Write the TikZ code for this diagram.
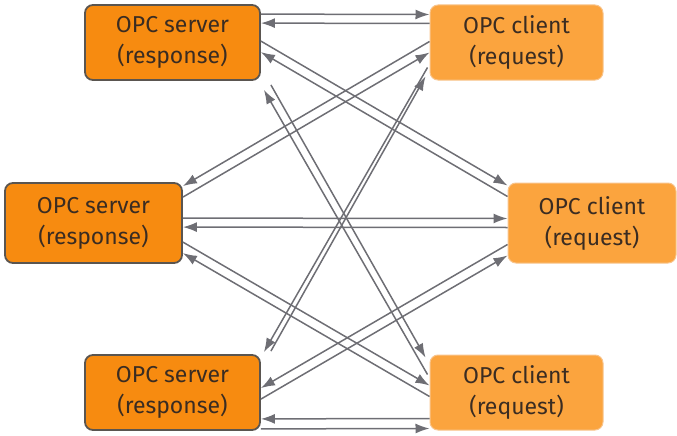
\documentclass[tikz,border=0pt]{standalone}
\usepackage{fontspec}
\setmainfont{Fira Sans}
\usetikzlibrary{arrows.meta}
\definecolor{srvfill}{HTML}{F78B10}
\definecolor{srvline}{HTML}{5A5550}
\definecolor{clifill}{HTML}{FBA43E}
\definecolor{cliline}{HTML}{F8C48C}
\definecolor{txt}{HTML}{3A2C22}
\definecolor{wire}{HTML}{6E6E74}
\tikzset{
  box/.style={rectangle, rounded corners=8pt, align=center, text=txt,
    font=\fontsize{23}{31}\selectfont, inner sep=0pt,
    execute at begin node={\rule{0pt}{25pt}}},
  server/.style={box, fill=srvfill, draw=srvline, line width=1.8pt},
  client/.style={box, fill=clifill, draw=cliline, line width=1pt},
  arr/.style={draw=wire, line width=1.5pt,
    -{Latex[length=14pt,width=10pt]}},
}
\begin{document}
\begin{tikzpicture}[x=1pt,y=-1pt]
\useasboundingbox (0,0) rectangle (677,436);
% boxes
\node[server, minimum width=175pt, minimum height=75pt] (s1) at (172.5,42.5) {OPC server\\(response)};
\node[server, minimum width=177pt, minimum height=80pt] (s2) at (93.5,223) {OPC server\\(response)};
\node[server, minimum width=175pt, minimum height=75pt] (s3) at (172.5,392.5) {OPC server\\(response)};
\node[client, minimum width=173pt, minimum height=75pt] (c1) at (516.5,42.5) {OPC client\\(request)};
\node[client, minimum width=168pt, minimum height=80pt] (c2) at (592,223) {OPC client\\(request)};
\node[client, minimum width=173pt, minimum height=75pt] (c3) at (516.5,392.5) {OPC client\\(request)};
% horizontal pairs
\draw[arr] ([yshift=-10pt]s1.north east) -- ([yshift=-10pt]c1.north west);
\draw[arr] ([yshift=-19pt]c1.north west) -- ([yshift=-19pt]s1.north east);
\draw[arr] ([yshift=-36pt]s2.north east) -- ([yshift=-36pt]c2.north west);
\draw[arr] ([yshift=-45pt]c2.north west) -- ([yshift=-45pt]s2.north east);
\draw[arr] ([yshift=12pt]c3.south west) -- ([yshift=12pt]s3.south east);
\draw[arr] ([yshift=2pt]s3.south east) -- ([yshift=2pt]c3.south west);
% server 1 <-> client 2, server 3 <-> client 2
\draw[arr] ([yshift=-37pt]s1.north east) -- ([yshift=-3pt]c2.north west);
\draw[arr] ([yshift=-14pt]c2.north west) -- ([yshift=-48pt]s1.north east);
\draw[arr] ([yshift=-45pt]s3.north east) -- ([yshift=-73pt]c2.north west);
\draw[arr] ([yshift=-62pt]c2.north west) -- ([yshift=-34pt]s3.north east);
% client 1 <-> server 2, client 3 <-> server 2
\draw[arr] ([yshift=-37pt]c1.north west) -- ([yshift=-4pt]s2.north east);
\draw[arr] ([yshift=-15pt]s2.north east) -- ([yshift=-48pt]c1.north west);
\draw[arr] ([yshift=-60pt]s2.north east) -- ([yshift=-31pt]c3.north west);
\draw[arr] ([yshift=-42pt]c3.north west) -- ([yshift=-71pt]s2.north east);
% steep crossings
\draw[arr] ([xshift=10pt,yshift=-4pt]s1.south east) -- ([xshift=-4pt,yshift=-3pt]c3.north west);
\draw[arr] ([xshift=-2pt,yshift=-20pt]c3.north west) -- ([xshift=3pt,yshift=-9pt]s1.south east);
\draw[arr] ([xshift=10pt,yshift=3pt]s3.north east) -- ([xshift=-4pt,yshift=4pt]c1.south west);
\draw[arr] ([xshift=-2pt,yshift=13pt]c1.south west) -- ([xshift=3pt,yshift=2pt]s3.north east);
\end{tikzpicture}
\end{document}
